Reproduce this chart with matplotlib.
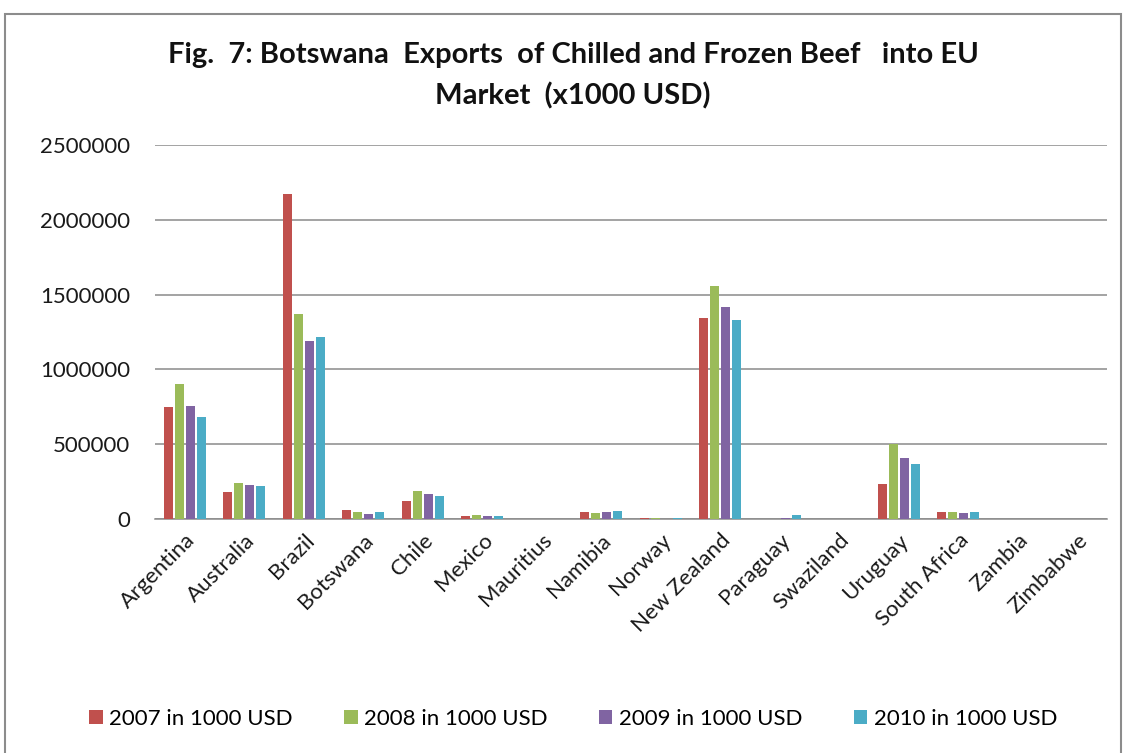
import numpy as np
import matplotlib
matplotlib.use("Agg")
import matplotlib.pyplot as plt
from matplotlib.patches import Rectangle

plt.rcParams['font.family'] = ['Lato', 'DejaVu Sans']

countries = ["Argentina", "Australia", "Brazil", "Botswana", "Chile", "Mexico",
             "Mauritius", "Namibia", "Norway", "New Zealand", "Paraguay",
             "Swaziland", "Uruguay", "South Africa", "Zambia", "Zimbabwe"]

y2007 = [748000, 180000, 2172000, 60000, 120000, 20000, 0, 45000, 10000,
         1345000, 3000, 0, 235000, 45000, 0, 0]
y2008 = [902000, 240000, 1370000, 45000, 190000, 25000, 0, 38000, 8000,
         1560000, 3000, 0, 500000, 45000, 0, 0]
y2009 = [756000, 227000, 1190000, 35000, 170000, 20000, 0, 45000, 3000,
         1415000, 10000, 0, 405000, 38000, 0, 0]
y2010 = [682000, 220000, 1216000, 50000, 155000, 20000, 0, 52000, 8000,
         1330000, 25000, 0, 370000, 45000, 0, 0]

series_labels = ["2007 in 1000 USD", "2008 in 1000 USD",
                 "2009 in 1000 USD", "2010 in 1000 USD"]
colors = ["#C0504D", "#9BBB59", "#8064A2", "#4BACC6"]

fig = plt.figure(figsize=(11.24, 7.53), dpi=100)
fig.patches.append(Rectangle((5 / 1124, -0.01), 1116 / 1124, 1 - 14 / 753 + 0.01,
                             transform=fig.transFigure, fill=False,
                             edgecolor="#8c8c8c", linewidth=1.5))

ax = fig.add_axes([155 / 1124, 1 - 519 / 753, 952 / 1124, 374 / 753])

x = np.arange(len(countries))
step = 0.185
width = 0.155
for i, (vals, lab, c) in enumerate(zip([y2007, y2008, y2009, y2010],
                                       series_labels, colors)):
    ax.bar(x + (i - 1.5) * step, vals, width, color=c, label=lab, zorder=3)

ax.set_xlim(-0.5, len(countries) - 0.5)
ax.set_ylim(0, 2500000)
ax.set_yticks(np.arange(0, 2500001, 500000))
ax.set_yticklabels([str(v) for v in range(0, 2500001, 500000)])
ax.yaxis.grid(True, color="#8a8a8a", linewidth=1.1, zorder=0)
ax.set_xticks(x)
ax.set_xticklabels(countries, rotation=45, ha="right", rotation_mode="anchor")
ax.tick_params(axis="both", length=0, labelsize=16, colors="#1a1a1a")
ax.tick_params(axis="y", pad=18)
ax.tick_params(axis="x", pad=8)
for s in ["top", "right", "left"]:
    ax.spines[s].set_visible(False)
ax.spines["bottom"].set_color("#8a8a8a")
ax.spines["bottom"].set_linewidth(1.1)

fig.text(0.51, 1 - 55 / 753, "Fig.  7: Botswana  Exports  of Chilled and Frozen Beef   into EU",
         ha="center", va="center", fontsize=21, fontweight="bold", color="#111111")
fig.text(0.51, 1 - 96 / 753, "Market  (x1000 USD)",
         ha="center", va="center", fontsize=21, fontweight="bold", color="#111111")

fig.legend(loc="center", bbox_to_anchor=(0.51, 1 - 719 / 753), ncol=4,
           frameon=False, fontsize=16, handlelength=0.6, handleheight=0.6,
           handletextpad=0.3, columnspacing=2.3)

fig.savefig("out.png", dpi=100)
